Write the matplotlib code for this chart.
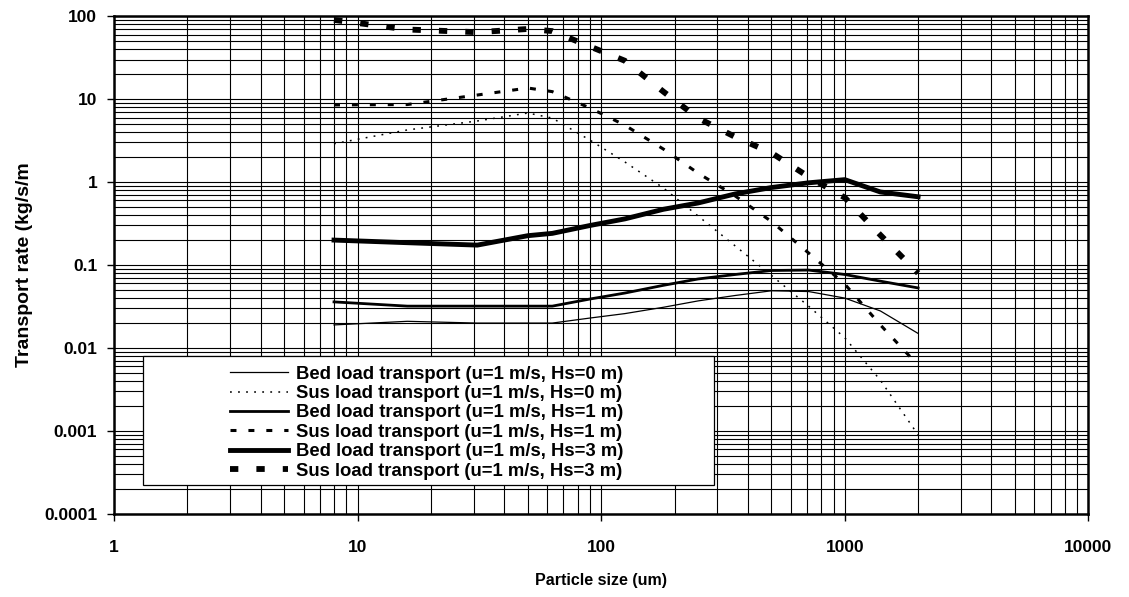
import matplotlib
matplotlib.use('Agg')
import matplotlib.pyplot as plt
from matplotlib.patches import Rectangle

plt.rcParams['font.family'] = ['Liberation Sans', 'DejaVu Sans']
plt.rcParams['font.weight'] = 'bold'
plt.rcParams['lines.scale_dashes'] = False

# particle size (um)
size_um = [8, 16, 31, 50, 63, 90, 125, 180, 250, 355, 500, 710, 1000, 1400, 2000]

# transport rates (kg/s/m), u = 1 m/s
bed_hs0 = [0.019, 0.021, 0.020, 0.020, 0.020, 0.023, 0.026, 0.031, 0.037, 0.043, 0.049, 0.048, 0.040, 0.028, 0.015]
sus_hs0 = [2.9, 4.25, 5.45, 6.8, 5.9, 3.2, 1.75, 0.85, 0.39, 0.17, 0.075, 0.032, 0.0133, 0.0041, 0.0009]
bed_hs1 = [0.036, 0.032, 0.032, 0.032, 0.032, 0.039, 0.046, 0.057, 0.068, 0.077, 0.086, 0.087, 0.077, 0.064, 0.053]
sus_hs1 = [8.5, 8.6, 11.2, 13.6, 12.3, 7.8, 4.85, 2.5, 1.28, 0.68, 0.335, 0.14, 0.059, 0.019, 0.0062]
bed_hs3 = [0.20, 0.186, 0.174, 0.226, 0.241, 0.30, 0.36, 0.47, 0.56, 0.72, 0.86, 0.98, 1.07, 0.76, 0.665]
sus_hs3 = [90, 69, 64, 70, 66, 43, 29, 12.3, 5.9, 3.5, 2.25, 1.16, 0.65, 0.23, 0.08]

labels = ['Bed load transport (u=1 m/s, Hs=0 m)',
          'Sus load transport (u=1 m/s, Hs=0 m)',
          'Bed load transport (u=1 m/s, Hs=1 m)',
          'Sus load transport (u=1 m/s, Hs=1 m)',
          'Bed load transport (u=1 m/s, Hs=3 m)',
          'Sus load transport (u=1 m/s, Hs=3 m)']

yticks = [0.0001, 0.001, 0.01, 0.1, 1, 10, 100]
ytick_labels = ['0.0001', '0.001', '0.01', '0.1', '1', '10', '100']
xticks = [1, 10, 100, 1000, 10000]
xtick_labels = ['1', '10', '100', '1000', '10000']

fig = plt.figure(figsize=(11.29, 5.97), dpi=100)
ax = fig.add_axes([0.101, 0.139, 0.863, 0.834])

ax.plot(size_um, bed_hs0, color='black', lw=0.9, label=labels[0])
ax.plot(size_um, sus_hs0, color='black', lw=1.1, dashes=(1.3, 4.5), label=labels[1])
ax.plot(size_um, bed_hs1, color='black', lw=2.0, label=labels[2])
ax.plot(size_um, sus_hs1, color='black', lw=2.2, dashes=(4.3, 8.6), label=labels[3])
ax.plot(size_um, bed_hs3, color='black', lw=3.5, label=labels[4])
ax.plot(size_um, sus_hs3, color='black', lw=4.2, dashes=(6, 13), label=labels[5])

ax.set_xscale('log')
ax.set_yscale('log')
ax.set_xlim(1, 10000)
ax.set_ylim(0.0001, 100)

ax.set_axisbelow(True)
ax.grid(True, which='both', color='black', lw=0.8)

ax.set_xticks(xticks)
ax.set_xticklabels(xtick_labels)
ax.set_yticks(yticks)
ax.set_yticklabels(ytick_labels)
ax.tick_params(which='minor', length=0)
ax.tick_params(axis='x', which='major', length=5, width=1, pad=13.5, labelsize=12.5)
ax.tick_params(axis='y', which='major', length=5, width=1, pad=7, labelsize=12.5)
for s in ax.spines.values():
    s.set_linewidth(1.8)

ax.set_xlabel('Particle size (um)', fontsize=11.5, fontweight='bold', labelpad=13)
ax.set_ylabel('Transport rate (kg/s/m', fontsize=14, fontweight='bold', labelpad=8)

# legend box (Excel style: handles set well inside the frame)
box = Rectangle((0.030, 0.058), 0.586, 0.259, transform=ax.transAxes,
                facecolor='white', edgecolor='black', lw=0.9, zorder=4)
ax.add_patch(box)
leg = ax.legend(loc='upper left', bbox_to_anchor=(0.119, 0.298), frameon=False,
                borderpad=0, borderaxespad=0, handlelength=3.14, handletextpad=0.43,
                labelspacing=0.13, prop={'size': 13.3, 'weight': 'bold'})
leg.set_zorder(5)

fig.savefig('out.png', dpi=100)
